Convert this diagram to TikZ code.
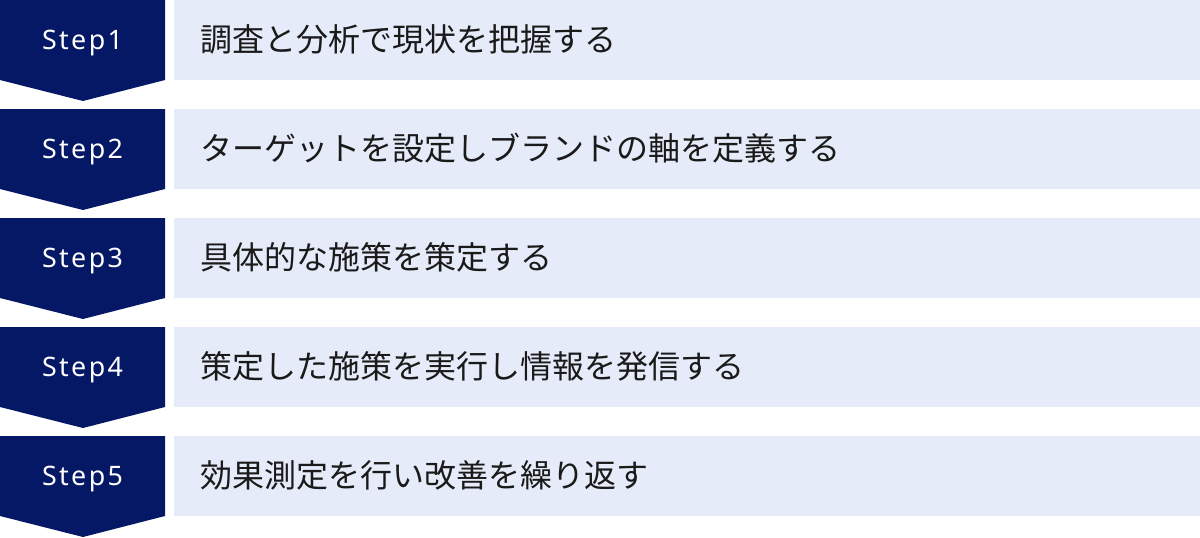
\documentclass[tikz,border=0pt]{standalone}
\usepackage{fontspec}
\setmainfont{Noto Sans CJK JP}
\newfontfamily\steplabelfont{Noto Sans}[LetterSpace=9]
\definecolor{navy}{HTML}{051865}
\definecolor{paleblue}{HTML}{E5EBF8}
\definecolor{ink}{HTML}{1A1A1A}
\tikzset{
  stepshape/.style={fill=navy, draw=none},
  stepbar/.style={fill=paleblue, draw=none},
  steplabel/.style={text=white, font=\steplabelfont\fontsize{26.8}{30}\selectfont, inner sep=0pt, anchor=base},
  steptext/.style={text=ink, font=\fontsize{32}{38}\selectfont, anchor=base west, inner sep=0pt},
}
\begin{document}
\begin{tikzpicture}[x=1pt,y=-1pt]
\useasboundingbox (0,0) rectangle (1200,538);
\foreach \i/\txt in {1/調査と分析で現状を把握する,2/ターゲットを設定しブランドの軸を定義する,3/具体的な施策を策定する,4/策定した施策を実行し情報を発信する,5/効果測定を行い改善を繰り返す}{
  \pgfmathsetmacro{\top}{(\i-1)*109}
  \path[stepshape] (0,\top) -- (165,\top) -- (165,\top+80) -- (83,\top+101) -- (0,\top+80) -- cycle;
  \node[steplabel] (s\i) at (82.5,\top+49.3) {Step\i};
  \path[stepbar] (174,\top) rectangle (1200,\top+80);
  \node[steptext] (t\i) at (200,\top+51) {\txt};
}
\end{tikzpicture}
\end{document}
